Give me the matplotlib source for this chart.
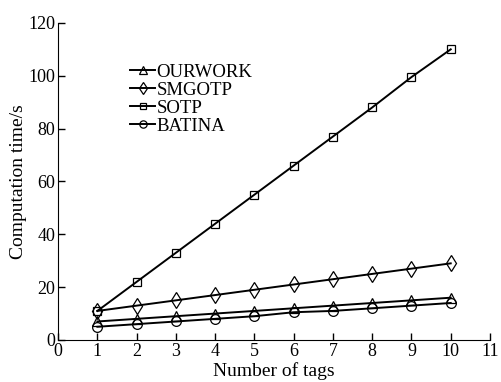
import matplotlib
matplotlib.use("Agg")
import matplotlib.pyplot as plt

plt.rcParams['font.family'] = ['Liberation Serif', 'DejaVu Serif']
plt.rcParams['mathtext.fontset'] = 'stix'

tags = [1, 2, 3, 4, 5, 6, 7, 8, 9, 10]
ourwork = [7, 8, 9, 10, 11, 12, 13, 14, 15, 16]
smgotp = [11, 13, 15, 17, 19, 21, 23, 25, 27, 29]
sotp = [11, 22, 33, 44, 55, 66, 77, 88, 99.5, 110]
batina = [5, 6, 7, 8, 9, 10.5, 11, 12, 13, 14]

fig = plt.figure(figsize=(5.01, 3.82), dpi=100)
ax = fig.add_axes([0.116, 0.110, 0.862, 0.830])

style = dict(color='black', lw=1.4, markerfacecolor='none', markeredgecolor='black', markeredgewidth=0.9)
ax.plot(tags, ourwork, marker='^', ms=7, label='OURWORK', **style)
ax.plot(tags, smgotp, marker='d', ms=8, label='SMGOTP', **style)
ax.plot(tags, sotp, marker='s', ms=6, label='SOTP', **style)
ax.plot(tags, batina, marker='o', ms=7, label='BATINA', **style)

ax.set_xlim(0, 11)
ax.set_ylim(0, 120)
ax.set_xticks(range(0, 12))
ax.set_yticks(range(0, 121, 20))
ax.spines['top'].set_visible(False)
ax.spines['right'].set_visible(False)
ax.tick_params(direction='in', length=5, width=1, labelsize=13, pad=2)
ax.set_xlabel('Number of tags', fontsize=14, labelpad=2)
ax.set_ylabel('Computation time/s', fontsize=14, labelpad=1)

leg = ax.legend(loc='upper left', bbox_to_anchor=(0.15, 0.895), frameon=False,
                fontsize=13.5, handlelength=1.3, handletextpad=0.1,
                labelspacing=0.05, borderaxespad=0, markerscale=0.75)

fig.savefig('out.png', dpi=100)
